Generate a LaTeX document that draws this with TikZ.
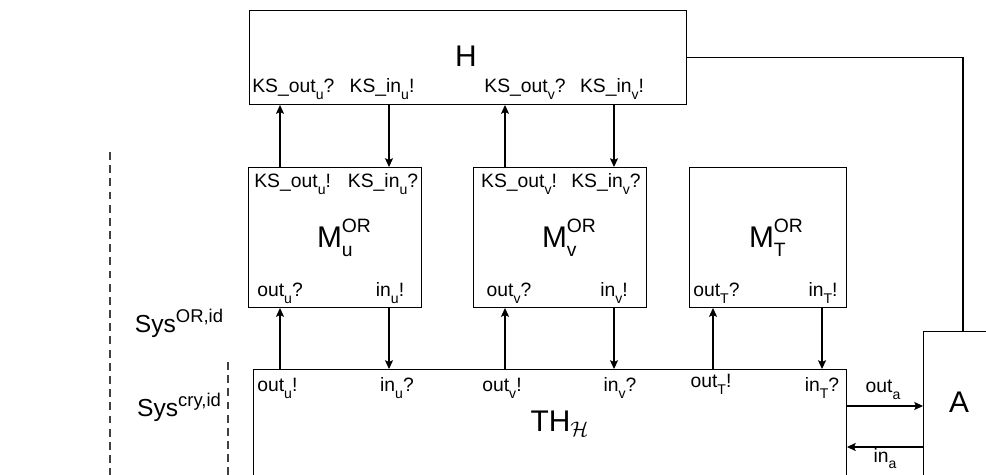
\documentclass[tikz,border=0pt]{standalone}
\usepackage{fontspec}
\setmainfont{Liberation Sans}
\usepackage{amsmath}
\usetikzlibrary{arrows.meta,positioning}

\newcommand{\sbs}[1]{\raisebox{-3.5pt}{\fontsize{8}{9}\selectfont #1}}
\newcommand{\subsup}[2]{\rlap{\raisebox{-5pt}{\fontsize{11}{12}\selectfont #1}}\raisebox{9pt}{\fontsize{11}{12}\selectfont #2}}
\newcommand{\syssup}[1]{\raisebox{6pt}{\fontsize{10.5}{12}\selectfont #1}}
\newcommand{\portfont}{\fontsize{11}{13}\selectfont}
\newcommand{\titlefont}{\fontsize{17}{20}\selectfont}
\newcommand{\sysfont}{\fontsize{14}{16}\selectfont}

\tikzset{
  box/.style={draw, line width=0.6pt, inner sep=0pt, anchor=north west},
  port/.style={inner sep=0pt, font=\portfont},
  title/.style={inner sep=0pt, anchor=base, font=\titlefont},
  syslbl/.style={inner sep=0pt, anchor=base, font=\sysfont},
  arr/.style={line width=0.6pt, -{Stealth[length=5pt,width=4.6pt,inset=1pt]}},
  wire/.style={line width=0.6pt},
  sysline/.style={line width=0.6pt, black!75, dash pattern=on 4.5pt off 3pt},
}

\begin{document}
\begin{tikzpicture}[x=0.02cm, y=-0.02cm]
\useasboundingbox (0,0) rectangle (986,475);
\clip (0,0) rectangle (986,475);
%% channel columns (x only)
\foreach \n/\x in {uo/280, ui/389, vo/505, vi/614, To/713, Ti/822, A/963}
  \coordinate (c\n) at (\x,0);
\coordinate (rowout) at (0,406);
\coordinate (rowin) at (0,447);
%% boxes
\node[box, minimum width=8.74cm, minimum height=1.88cm] (H) at (249,10) {};
\node[box, minimum width=3.46cm, minimum height=2.8cm] (Mu) at (248,167) {};
\node[box, minimum width=3.46cm, minimum height=2.8cm] (Mv) at (473,167) {};
\node[box, minimum width=3.14cm, minimum height=2.8cm] (MT) at (689,167) {};
\node[box, minimum width=11.86cm, minimum height=2.8cm] (TH) at (253,369) {};
\node[box, minimum width=1.6cm, minimum height=3.4cm] (A) at (923,331) {};
%% titles
\node[title] (Htitle) at (466,67) {H};
\node[title] (Mutitle) at (344,248) {M\subsup{u}{OR}};
\node[title] (Mvtitle) at (569,248) {M\subsup{v}{OR}};
\node[title] (MTtitle) at (776,248) {M\subsup{T}{OR}};
\node[title] (THtitle) at (560,432) {TH\textsubscript{$\mathcal{H}$}};
\node[title] (Atitle) at (959,413) {A};
%% ports of H
\node[port, anchor=base west] (Hkou) at (252,93) {KS\_out\sbs{u}?};
\node[port, anchor=base] (Hkiu) at (382,93) {KS\_in\sbs{u}!};
\node[port, anchor=base] (Hkov) at (525,93) {KS\_out\sbs{v}?};
\node[port, anchor=base] (Hkiv) at (612,93) {KS\_in\sbs{v}!};
%% ports of the M boxes
\node[port, anchor=base west] (Mukou) at (254,188) {KS\_out\sbs{u}!};
\node[port, anchor=base] (Mukiu) at (383,188) {KS\_in\sbs{u}?};
\node[port, anchor=base west] (Muou) at (257,297) {out\sbs{u}?};
\node[port, anchor=base] (Muiu) at (390,297) {in\sbs{u}!};
\node[port, anchor=base] (Mvkov) at (519,188) {KS\_out\sbs{v}!};
\node[port, anchor=base] (Mvkiv) at (606,188) {KS\_in\sbs{v}?};
\node[port, anchor=base] (Mvov) at (509,297) {out\sbs{v}?};
\node[port, anchor=base] (Mviv) at (614,297) {in\sbs{v}!};
\node[port, anchor=base west] (MToT) at (693,297) {out\sbs{T}?};
\node[port, anchor=base] (MTiT) at (823,297) {in\sbs{T}!};
%% ports of TH
\node[port, anchor=base west] (THou) at (257,392) {out\sbs{u}!};
\node[port, anchor=base] (THiu) at (397,392) {in\sbs{u}?};
\node[port, anchor=base] (THov) at (502,392) {out\sbs{v}!};
\node[port, anchor=base] (THiv) at (620,392) {in\sbs{v}?};
\node[port, anchor=base] (THoT) at (711,388) {out\sbs{T}!};
\node[port, anchor=base] (THiT) at (822,392) {in\sbs{T}?};
\node[port, anchor=base] (outa) at (883,393) {out\sbs{a}};
\node[port, anchor=base] (ina) at (885,462) {in\sbs{a}};
%% H <-> M
\draw[arr] (Mu.north -| cuo) -- (H.south -| cuo);
\draw[arr] (H.south -| cui) -- (Mu.north -| cui);
\draw[arr] (Mv.north -| cvo) -- (H.south -| cvo);
\draw[arr] (H.south -| cvi) -- (Mv.north -| cvi);
%% M <-> TH
\draw[arr] (TH.north -| cuo) -- (Mu.south -| cuo);
\draw[arr] (Mu.south -| cui) -- (TH.north -| cui);
\draw[arr] (TH.north -| cvo) -- (Mv.south -| cvo);
\draw[arr] (Mv.south -| cvi) -- (TH.north -| cvi);
\draw[arr] (TH.north -| cTo) -- (MT.south -| cTo);
\draw[arr] (MT.south -| cTi) -- (TH.north -| cTi);
%% TH <-> A, H -- A
\draw[arr] (TH.east |- rowout) -- (A.west |- rowout);
\draw[arr] (A.west |- rowin) -- (TH.east |- rowin);
\draw[wire] (H.east) -| (A.north -| cA);
%% system borders
\draw[sysline] (110,152) -- (110,480);
\draw[sysline] (228,362) -- (228,480);
\node[syslbl] (sysor) at (179,333) {Sys\syssup{OR,id}};
\node[syslbl] (syscry) at (179,417) {Sys\syssup{cry,id}};
\end{tikzpicture}
\end{document}
